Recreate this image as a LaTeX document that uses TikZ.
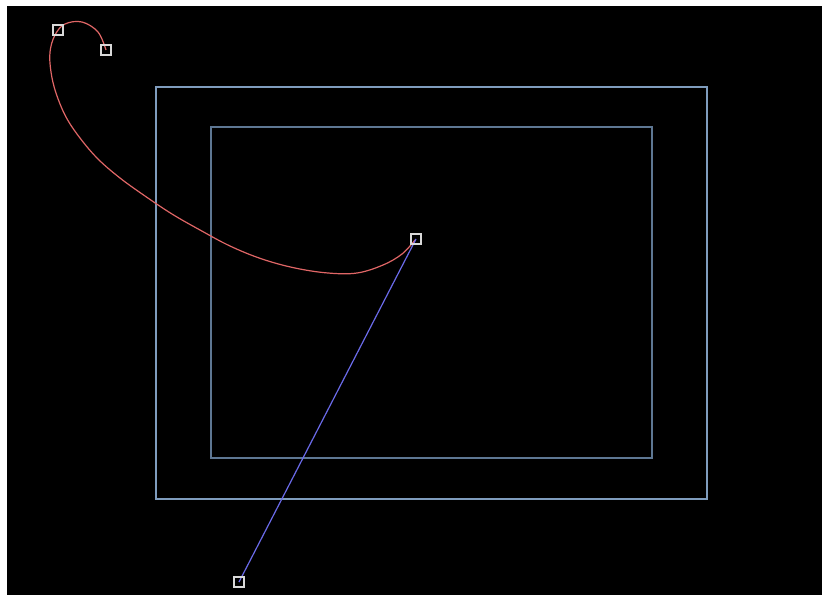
\documentclass[tikz,border=0pt]{standalone}
\begin{document}
\begin{tikzpicture}[x=1pt,y=-1pt,
  handle/.style={draw=white!85!black,line width=1.3pt,minimum size=10pt,inner sep=0pt,fill=none},
  outerbox/.style={draw=outerc,line width=1.4pt},
  innerbox/.style={draw=innerc,line width=1.4pt},
  curvestyle/.style={draw=curvec,line width=1.2pt},
  handlelink/.style={draw=linkc,line width=1.2pt}]
\definecolor{outerc}{HTML}{7F9CBD}
\definecolor{innerc}{HTML}{5E7793}
\definecolor{curvec}{HTML}{E06666}
\definecolor{linkc}{HTML}{6A6AE8}
\useasboundingbox (0,0) rectangle (822,595);
\fill[white] (0,0) rectangle (822,595);
\fill[black] (7,6) rectangle (822,595);
\draw[outerbox] (156,87) rectangle (707,499);
\draw[innerbox] (211,127) rectangle (652,458);
\coordinate (s) at (106,50);
\coordinate (c1) at (58,30);
\coordinate (e) at (416,239);
\coordinate (c2) at (239,582);
\draw[curvestyle] plot[smooth,tension=0.6] coordinates {(106,50) (98,32) (82,22) (65,24) (55,35) (50,52) (51,72) (56,93) (66,117) (80,138) (98,159) (120,178) (145,196) (172,214) (200,230) (230,246) (262,259) (295,268) (328,273) (357,273) (383,265) (402,254) (415,240)};
\draw[handlelink] (e) -- (c2);
\node[handle] (hs) at (s) {};
\node[handle] (hc1) at (c1) {};
\node[handle] (he) at (e) {};
\node[handle] (hc2) at (c2) {};
\end{tikzpicture}
\end{document}
